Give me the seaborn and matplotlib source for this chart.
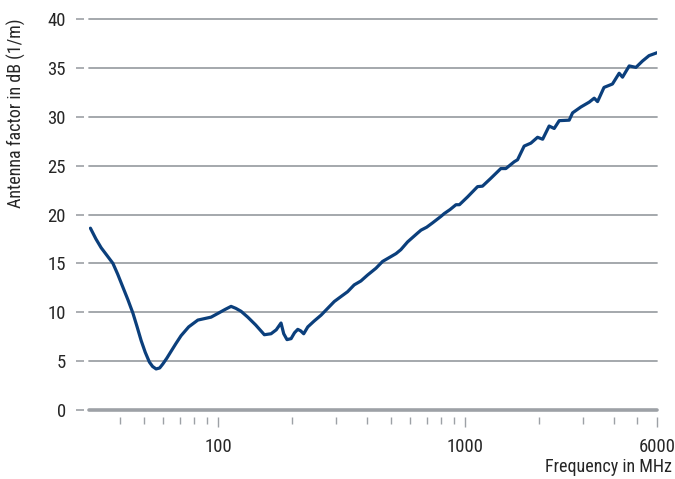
import matplotlib
matplotlib.use("Agg")
import matplotlib.pyplot as plt
import seaborn as sns
import pandas as pd
from matplotlib.ticker import FixedLocator, NullFormatter, FixedFormatter

freq_mhz = [30.4, 32.0, 33.6, 35.5, 37.5, 39.2, 41.1, 43.1, 45.2, 47.0, 48.8, 50.7,
            52.7, 54.3, 56.1, 58.0, 59.7, 62.0, 64.5, 67.5,
            70.8, 76, 82.8, 93.7, 101, 107, 112.9, 118, 123.9, 131.9, 142, 154,
            163.9, 172, 179.9, 184.5, 190.2, 197.6, 204, 210.3, 216, 222.3, 230.9,
            245, 261.3, 295.7, 314.5, 334.7, 356, 379, 403, 436, 464, 502, 526, 550,
            586, 643, 664, 700, 740, 799, 825, 870, 920, 950, 1025, 1125, 1178,
            1273, 1398, 1465, 1585, 1634, 1738, 1850, 1969, 2065, 2194, 2300, 2410,
            2645, 2730, 2950, 3190, 3340, 3446, 3660, 3960, 4215, 4350, 4630, 4930,
            5240, 5570, 6000]
antenna_factor = [18.6, 17.5, 16.6, 15.8, 15.0, 13.9, 12.6, 11.3, 9.9, 8.5, 7.1, 5.9,
                  4.9, 4.45, 4.2, 4.3, 4.7, 5.3, 6.0, 6.8,
                  7.6, 8.5, 9.2, 9.5, 9.95, 10.3, 10.6, 10.4, 10.1, 9.5, 8.7, 7.7,
                  7.8, 8.2, 8.9, 7.8, 7.2, 7.3, 7.9, 8.25, 8.1, 7.8, 8.5,
                  9.1, 9.7, 11.1, 11.6, 12.1, 12.8, 13.2, 13.8, 14.5, 15.2, 15.7, 16.0, 16.4,
                  17.2, 18.1, 18.4, 18.7, 19.15, 19.8, 20.1, 20.5, 21.0, 21.0, 21.8, 22.85, 22.9,
                  23.7, 24.7, 24.7, 25.4, 25.6, 27.0, 27.3, 27.9, 27.7, 29.05, 28.8, 29.6,
                  29.65, 30.4, 31.0, 31.5, 31.9, 31.55, 33.0, 33.35, 34.45, 34.05, 35.2, 35.05,
                  35.7, 36.25, 36.55]

y_ticks = [0, 5, 10, 15, 20, 25, 30, 35, 40]
x_major = [100, 1000, 6000]
x_major_labels = ["100", "1000", "6000"]
x_minor = [40, 50, 60, 70, 80, 90, 200, 300, 400, 500, 600, 700, 800, 900,
           2000, 3000, 4000, 5000]

sns.set_style("white")
plt.rcParams['font.family'] = ['Liberation Sans Narrow', 'Roboto Condensed', 'Roboto', 'DejaVu Sans']
plt.rcParams['font.size'] = 13

GRID = "#9da1a6"
TXT = "#262626"
LINE = "#0b3f7c"
TICKSIZE = 13.5
LABELSIZE = 13

fig = plt.figure(figsize=(6.75, 4.79), dpi=100)
ax = fig.add_axes([89 / 675, 1 - 410 / 479, (657 - 89) / 675, (410 - 19) / 479])

df = pd.DataFrame({"freq": freq_mhz, "af": antenna_factor})
for yv in y_ticks:
    ax.axhline(yv, color=GRID, lw=2.6 if yv == 0 else 1.3, clip_on=False, zorder=1)

sns.lineplot(data=df, x="freq", y="af", ax=ax, color=LINE, lw=2.3,
             estimator=None, sort=True, zorder=3, solid_capstyle="round",
             solid_joinstyle="round")

ax.set_xscale("log")
ax.set_xlim(30, 6000)
ax.set_ylim(0, 40)
for s in ax.spines.values():
    s.set_visible(False)
ax.spines['left'].set_position(('outward', 3.5))
ax.spines['bottom'].set_position(('outward', 5))

ax.xaxis.set_major_locator(FixedLocator(x_major))
ax.xaxis.set_major_formatter(FixedFormatter(x_major_labels))
ax.xaxis.set_minor_locator(FixedLocator(x_minor))
ax.xaxis.set_minor_formatter(NullFormatter())
ax.set_yticks(y_ticks)
ax.set_yticklabels([str(v) for v in y_ticks])

ax.tick_params(axis='x', which='major', direction='out', length=7.5, width=1,
               color=GRID, pad=8, labelsize=TICKSIZE, labelcolor=TXT, bottom=True)
ax.tick_params(axis='x', which='minor', direction='out', length=4.8, width=1,
               color=GRID, bottom=True)
ax.tick_params(axis='y', which='major', direction='out', length=6, width=1.2,
               color=GRID, pad=7, labelsize=TICKSIZE, labelcolor=TXT, left=True)

ax.set_xlabel("")
ax.set_ylabel("")
fig.text(16 / 675, 1 - 113 / 479, "Antenna factor in dB (1/m)", rotation=90,
         ha="center", va="center", fontsize=LABELSIZE, color=TXT)
fig.text(672 / 675, 1 - 467 / 479, "Frequency in MHz", ha="right", va="center",
         fontsize=LABELSIZE, color=TXT)

fig.savefig("out.png", dpi=100)
